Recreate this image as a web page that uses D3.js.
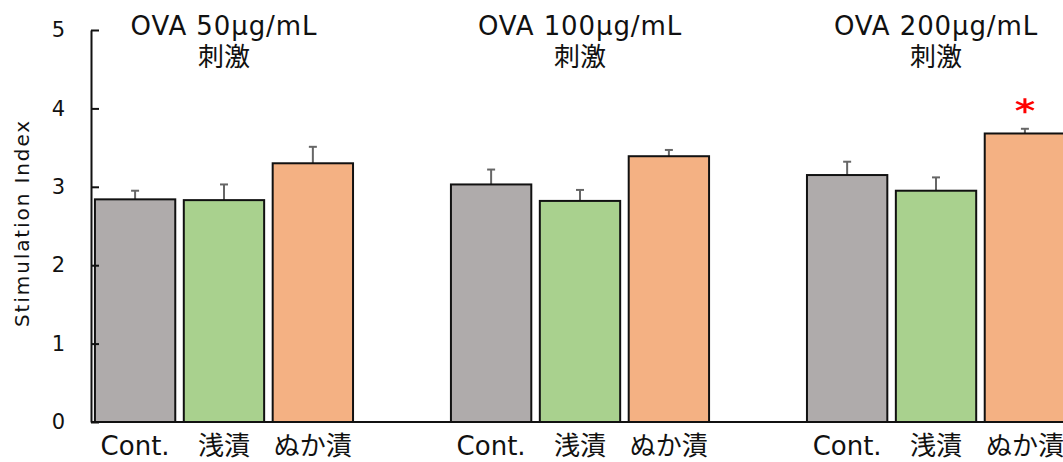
<!DOCTYPE html>
<html>
<head>
<meta charset="utf-8">
<script src="https://cdn.jsdelivr.net/npm/d3@7"></script>
<style>
  body { margin: 0; background: #fff; }
  svg { display: block; font-family: "DejaVu Sans", "Noto Sans CJK JP", sans-serif; }
</style>
</head>
<body>
<svg width="1063" height="462"></svg>
<script>
"use strict";

// stimulation groups, treatments
const groups = ["OVA 50μg/mL", "OVA 100μg/mL", "OVA 200μg/mL"];
const groupSub = ["刺激", "刺激", "刺激"];
const treatments = ["Cont.", "浅漬", "ぬか漬"];
const means = [
    [2.84, 2.83, 3.30],
    [3.03, 2.82, 3.39],
    [3.15, 2.95, 3.68]
];
const errors = [
    [0.11, 0.20, 0.21],
    [0.19, 0.14, 0.08],
    [0.17, 0.17, 0.06]
];
const significant = [
    [false, false, false],
    [false, false, false],
    [false, false, true]
];
const yTicks = [0, 1, 2, 3, 4, 5];

const svg = d3.select("svg"),
    width = 1063,
    color = d3.scaleOrdinal().domain(treatments).range(["#afabab", "#a9d18e", "#f4b183"]);

const x0 = d3.scaleBand()
    .domain(groups)
    .range([91, 1069])
    .paddingInner(0.275)
    .paddingOuter(0.011);

const x1 = d3.scaleBand()
    .domain(treatments)
    .range([0, x0.bandwidth()])
    .paddingInner(0.096);

const y = d3.scaleLinear().domain([0, 5]).range([422, 30]);

const rows = [];
groups.forEach((g, i) => {
    treatments.forEach((t, j) => {
        rows.push({group: g, treat: t, mean: means[i][j], err: errors[i][j], sig: significant[i][j]});
    });
});

// bars
const bar = svg.append("g").selectAll("g")
    .data(rows)
    .enter().append("g")
    .attr("transform", d => "translate(" + (x0(d.group) + x1(d.treat)) + ",0)");

// error bars (upper only)
bar.append("line")
    .attr("x1", x1.bandwidth() / 2)
    .attr("x2", x1.bandwidth() / 2)
    .attr("y1", d => y(d.mean))
    .attr("y2", d => y(d.mean + d.err))
    .attr("stroke", "#666")
    .attr("stroke-width", 2);
bar.append("line")
    .attr("x1", x1.bandwidth() / 2 - 4)
    .attr("x2", x1.bandwidth() / 2 + 4)
    .attr("y1", d => y(d.mean + d.err))
    .attr("y2", d => y(d.mean + d.err))
    .attr("stroke", "#666")
    .attr("stroke-width", 2);

bar.append("rect")
    .attr("x", 0)
    .attr("y", d => y(d.mean))
    .attr("width", x1.bandwidth())
    .attr("height", d => y(0) - y(d.mean))
    .attr("fill", d => color(d.treat))
    .attr("stroke", "#111")
    .attr("stroke-width", 2);

// significance mark
bar.filter(d => d.sig).append("path")
    .attr("d", d3.symbol().type(d3.symbolAsterisk).size(200))
    .attr("transform", d => "translate(" + (x1.bandwidth() / 2) + "," + (y(d.mean + d.err) - 23) + ") scale(1.2,0.9)")
    .attr("fill", "none")
    .attr("stroke", "#ff0000")
    .attr("stroke-width", 2.5);

// x labels
bar.append("text")
    .attr("x", x1.bandwidth() / 2)
    .attr("y", 455)
    .attr("text-anchor", "middle")
    .attr("font-size", 26)
    .attr("fill", "#111")
    .text(d => d.treat);

// group titles
const title = svg.append("g").selectAll("text")
    .data(groups)
    .enter().append("text")
    .attr("text-anchor", "middle")
    .attr("fill", "#111");
title.append("tspan")
    .attr("x", d => x0(d) + x0.bandwidth() / 2)
    .attr("y", 35)
    .attr("font-size", 26)
    .attr("letter-spacing", 0.9)
    .text(d => d);
title.append("tspan")
    .attr("x", d => x0(d) + x0.bandwidth() / 2)
    .attr("y", 66)
    .attr("font-size", 26)
    .text((d, i) => groupSub[i]);

// x axis line
svg.append("line")
    .attr("x1", 91).attr("x2", width)
    .attr("y1", y(0)).attr("y2", y(0))
    .attr("stroke", "#111")
    .attr("stroke-width", 2);

// y axis
const yAxis = svg.append("g")
    .attr("transform", "translate(91,0)")
    .call(d3.axisLeft(y).tickValues(yTicks).tickFormat(d3.format("d"))
        .tickSizeInner(-8).tickSizeOuter(0).tickPadding(26));
yAxis.select(".domain").attr("stroke", "#111").attr("stroke-width", 2);
yAxis.selectAll(".tick line").attr("stroke", "#111").attr("stroke-width", 2);
yAxis.selectAll(".tick text")
    .attr("font-size", 21)
    .attr("font-family", "DejaVu Sans, sans-serif")
    .attr("fill", "#111");

svg.append("text")
    .attr("transform", "translate(29,223) rotate(-90)")
    .attr("text-anchor", "middle")
    .attr("font-size", 20)
    .attr("letter-spacing", 1.9)
    .attr("fill", "#111")
    .text("Stimulation Index");
</script>
</body>
</html>
